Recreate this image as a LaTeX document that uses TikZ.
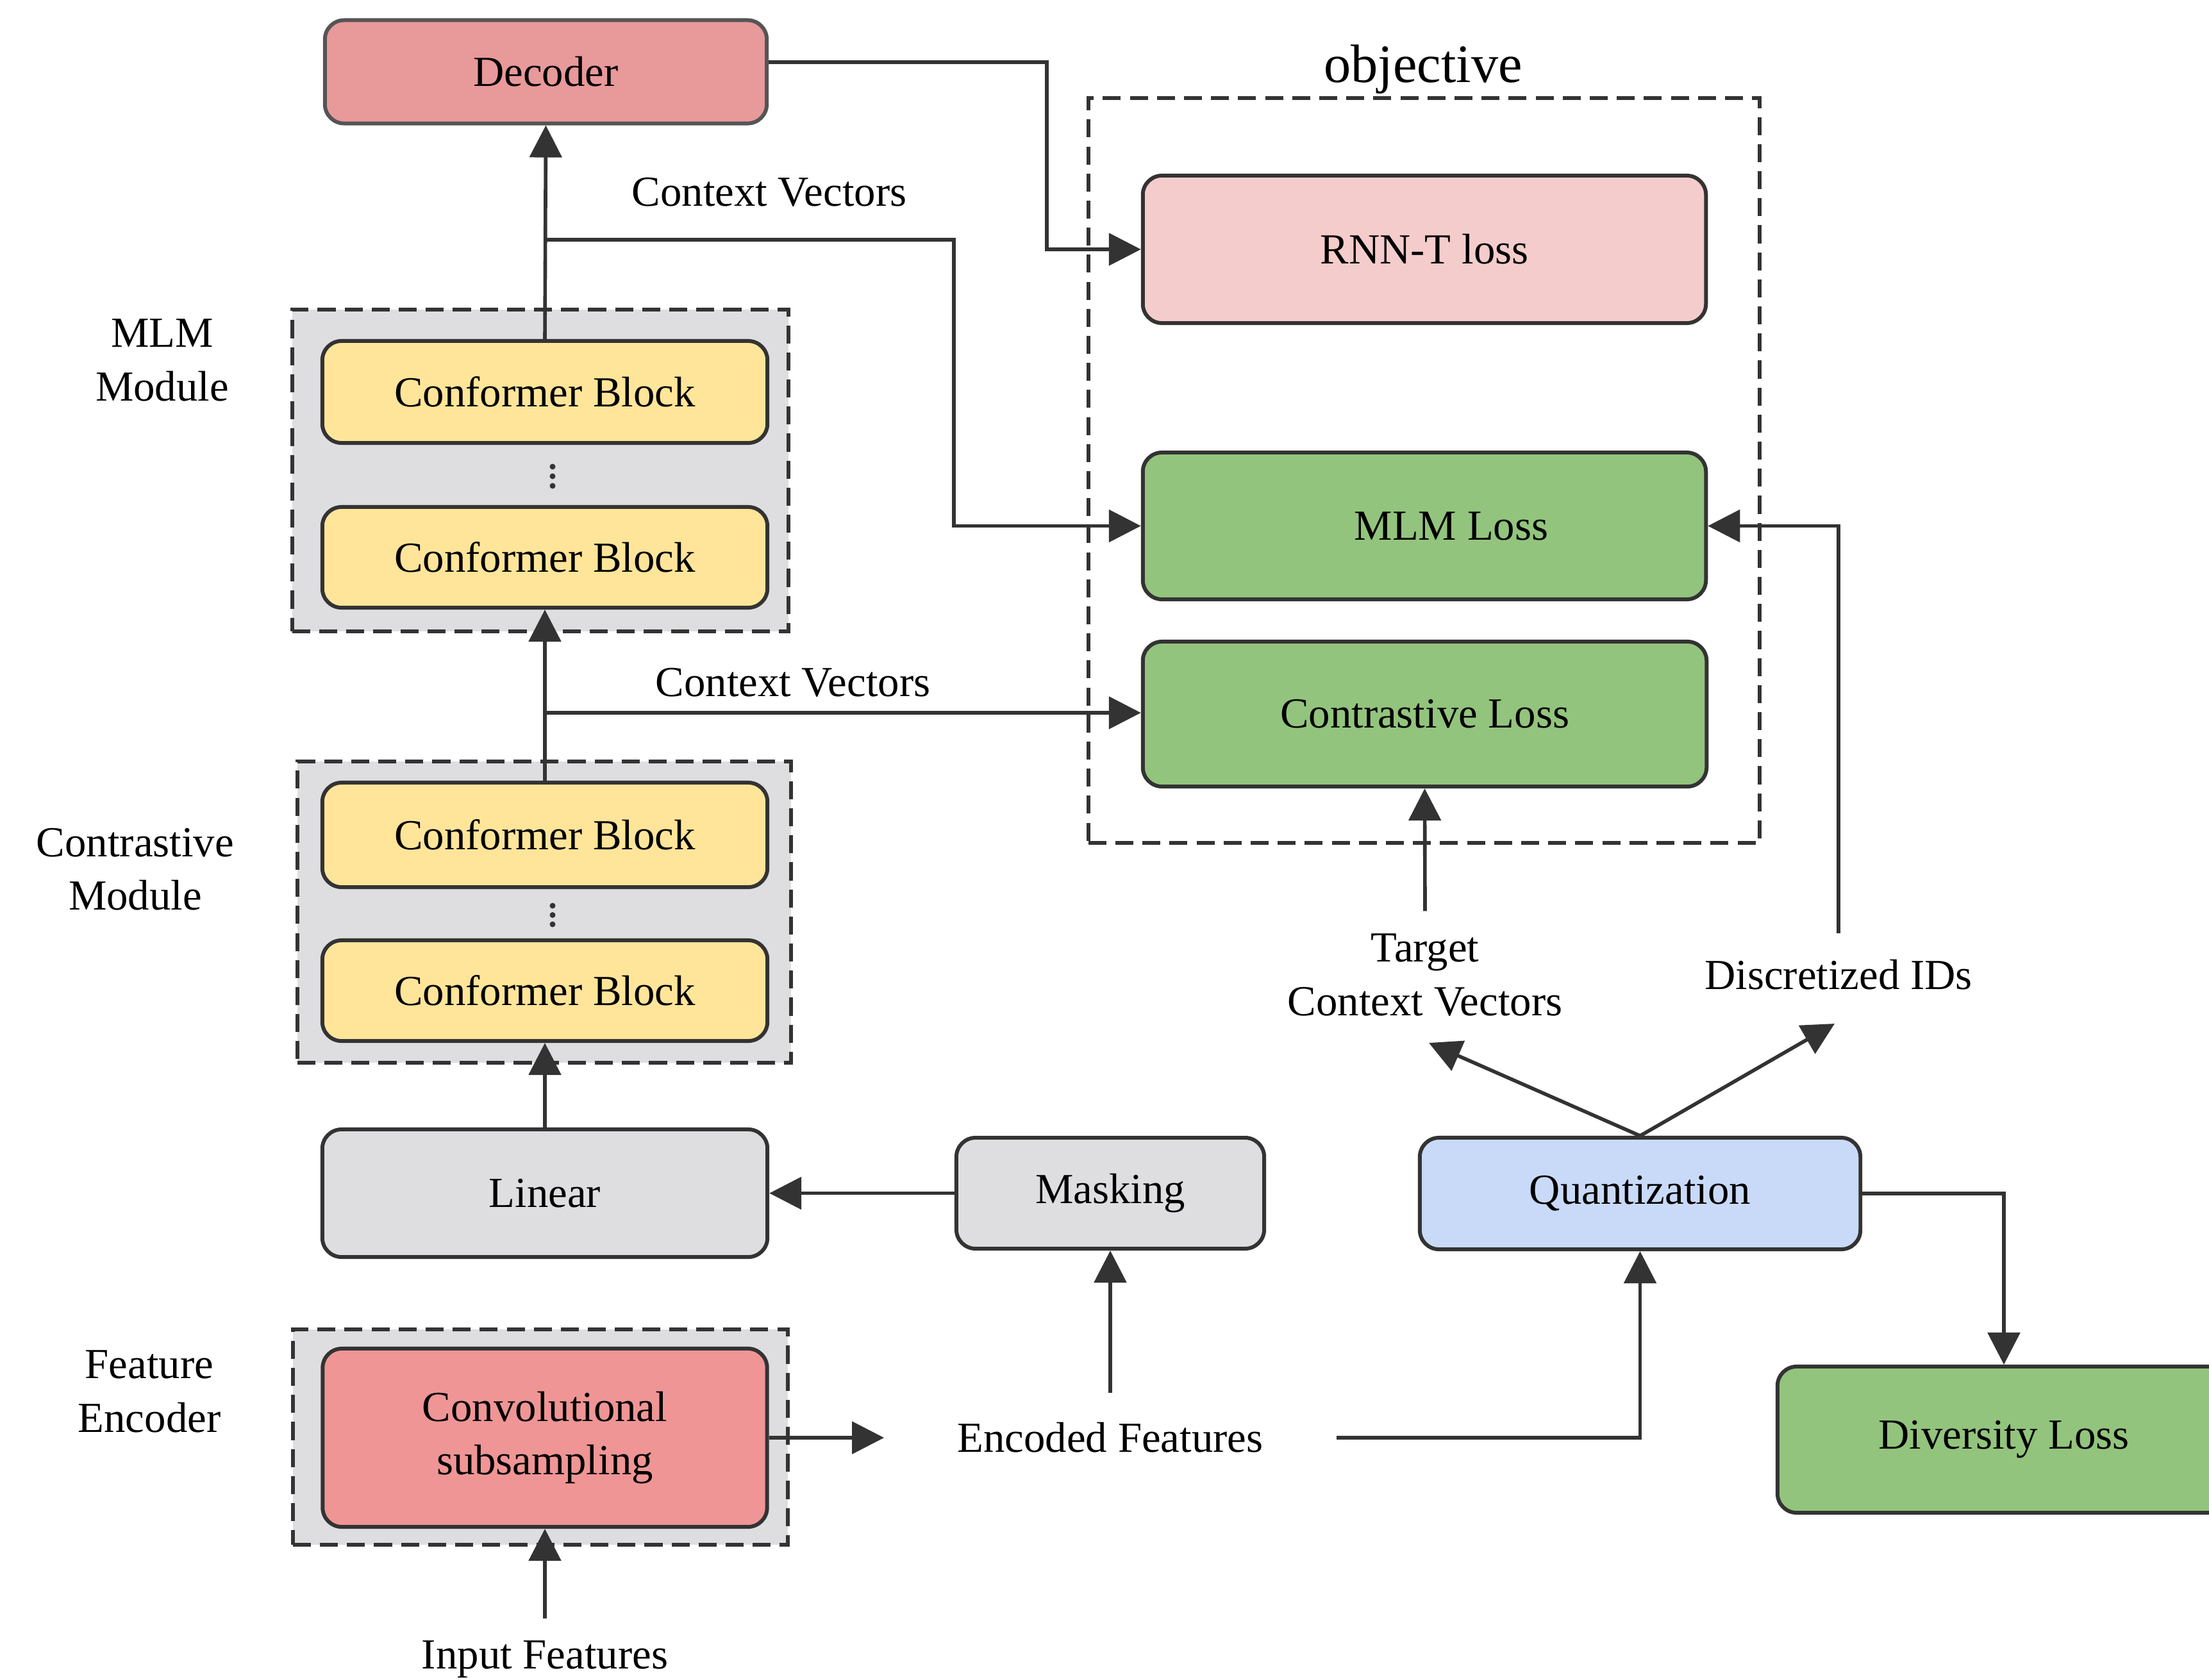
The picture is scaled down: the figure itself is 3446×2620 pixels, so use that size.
\documentclass[tikz,border=0pt]{standalone}
\usepackage{fontspec}
\setmainfont{Liberation Serif}
\usetikzlibrary{arrows.meta,calc}
\definecolor{cLine}{HTML}{333333}
\definecolor{cDec}{HTML}{E8999A}
\definecolor{cDecB}{HTML}{555555}
\definecolor{cConv}{HTML}{EF9595}
\definecolor{cYel}{HTML}{FFE599}
\definecolor{cGray}{HTML}{DEDEE0}
\definecolor{cPink}{HTML}{F4CCCC}
\definecolor{cGreen}{HTML}{93C47D}
\definecolor{cBlue}{HTML}{C9DAF8}
\tikzset{
  box/.style={draw=cLine, line width=1.7pt, rounded corners=0.3cm, inner sep=0pt,
    font=\fontsize{19}{23.7}\selectfont, align=center},
  grp/.style={draw=cLine, dash pattern=on 8pt off 4pt, line width=1.7pt, fill=cGray, inner sep=0pt},
  lbl/.style={inner sep=0pt, font=\fontsize{19}{23.7}\selectfont, align=center},
  arr/.style={draw=cLine, line width=1.6pt, -{Triangle[length=0.5cm,width=0.5cm]}},
  dotm/.style={fill=cLine, draw=none}
}
\begin{document}
\begin{tikzpicture}[x=0.01cm,y=-0.01cm]
\clip (0,0) rectangle (3446,2620);
\fill[white] (0,0) rectangle (3446,2620);
% groups
\node[grp, minimum width=7.74cm, minimum height=5.02cm] (mlmgrp) at (843,734) {};
\node[grp, minimum width=7.70cm, minimum height=4.70cm] (congrp) at (849,1423) {};
\node[grp, minimum width=7.72cm, minimum height=3.36cm] (featgrp) at (843,2242) {};
\node[grp, fill=none, minimum width=10.47cm, minimum height=11.62cm] (objgrp) at (2221.5,734) {};
% boxes
\node[box, fill=cDec, draw=cDecB, minimum width=6.89cm, minimum height=1.61cm] (decoder) at (851.5,112) {Decoder};
\node[box, fill=cYel, minimum width=6.94cm, minimum height=1.59cm] (cb1) at (850,611.5) {Conformer Block};
\node[box, fill=cYel, minimum width=6.94cm, minimum height=1.57cm] (cb2) at (850,869.5) {Conformer Block};
\node[box, fill=cYel, minimum width=6.94cm, minimum height=1.63cm] (cb3) at (850,1302.5) {Conformer Block};
\node[box, fill=cYel, minimum width=6.94cm, minimum height=1.57cm] (cb4) at (850,1545.5) {Conformer Block};
\node[box, fill=cGray, minimum width=6.94cm, minimum height=1.99cm] (linear) at (850,1861.5) {Linear};
\node[box, fill=cConv, minimum width=6.93cm, minimum height=2.78cm] (conv) at (850,2243) {Convolutional\\subsampling};
\node[box, fill=cGray, minimum width=4.80cm, minimum height=1.73cm] (masking) at (1732,1861.5) {Masking};
\node[box, fill=cBlue, minimum width=6.87cm, minimum height=1.74cm] (quant) at (2558.5,1862) {Quantization};
\node[box, fill=cGreen, minimum width=7.06cm, minimum height=2.28cm] (diversity) at (3126,2246) {Diversity Loss};
\node[box, fill=cPink, minimum width=8.78cm, minimum height=2.30cm] (rnnt) at (2222,389) {RNN-T loss};
\node[box, fill=cGreen, minimum width=8.78cm, minimum height=2.29cm] (mlmloss) at (2222,820.5) {\hspace*{0.84cm}MLM Loss};
\node[box, fill=cGreen, minimum width=8.79cm, minimum height=2.26cm] (contloss) at (2222.5,1114) {Contrastive Loss};
% dots
\foreach \yy in {728,743,758} \fill[dotm] (862,\yy) circle (4.5);
\foreach \yy in {1413,1427.5,1442} \fill[dotm] (862,\yy) circle (4.5);
% labels
\node[lbl] (cv1) at (1200,300) {Context Vectors};
\node[lbl] (cv2) at (1237,1065) {Context Vectors};
\node[lbl, font=\fontsize{24}{29}\selectfont] (obj) at (2220,108) {objective};
\node[lbl] (mlmlab) at (253,562) {MLM\\Module};
\node[lbl] (conlab) at (211,1356) {Contrastive\\Module};
\node[lbl] (featlab) at (233,2171) {Feature\\Encoder};
\node[lbl, minimum width=7.04cm, minimum height=1.38cm] (enc) at (1732,2243) {Encoded Features};
\node[lbl, minimum height=1.26cm] (inp) at (850,2589) {Input Features};
\node[lbl, minimum height=1.98cm] (tgt) at (2223,1521) {Target\\Context Vectors};
\node[lbl, minimum height=1.28cm] (dis) at (2868,1521) {Discretized IDs};
% coordinates
\coordinate (br1) at (850,374);
\coordinate (br2) at (850,1112);
\coordinate (k1) at (1488,374);
\coordinate (d1) at (1633,97);
\coordinate (t1) at (2229,1627);
\coordinate (t2) at (2862,1597);
% connectors
\draw[arr] (cb1.north) -- (decoder.south);
\draw[arr] (br1) -- (k1) |- (mlmloss.west);
\draw[arr] (decoder.east |- d1) -- (d1) |- (rnnt.west);
\draw[arr] (cb3.north) -- (cb2.south);
\draw[arr] (br2) -- (br2 -| contloss.west);
\draw[arr] (linear.north) -- (cb4.south);
\draw[arr] (masking.west) -- (linear.east);
\draw[arr] (conv.east) -- (enc.west);
\draw[arr] (enc.north) -- (masking.south);
\draw[arr] (enc.east) -| (quant.south);
\draw[arr] (inp.north) -- (conv.south);
\draw[arr] (tgt.north) -- (contloss.south);
\draw[arr] (dis.north) |- (mlmloss.east);
\draw[arr] (quant.north) -- (t1);
\draw[arr] (quant.north) -- (t2);
\draw[arr] (quant.east) -| (diversity.north);
\end{tikzpicture}
\end{document}
